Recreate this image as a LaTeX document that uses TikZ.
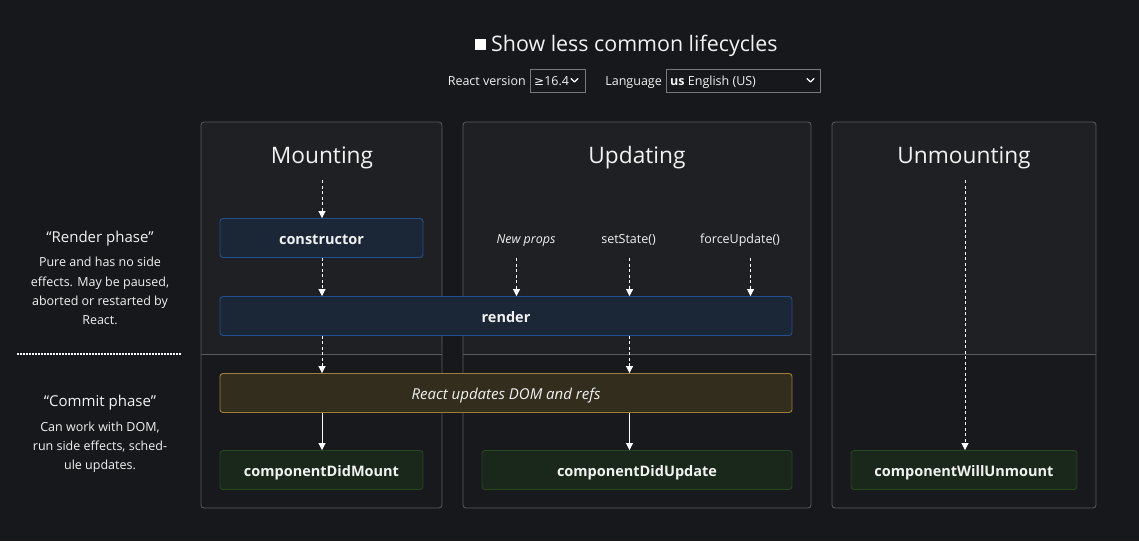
\documentclass[tikz,border=0pt]{standalone}
\usepackage{fontspec}
\setmainfont{Open Sans}
\newfontfamily\symfont{DejaVu Sans}
\usetikzlibrary{arrows.meta}

\definecolor{pagebg}{HTML}{17181C}
\definecolor{panelup}{HTML}{1F2024}
\definecolor{paneldown}{HTML}{18191D}
\definecolor{panelline}{HTML}{5B5B5F}
\definecolor{txt}{HTML}{F2F2F2}
\definecolor{bluefill}{HTML}{1B2637}
\definecolor{blueline}{HTML}{24508F}
\definecolor{goldfill}{HTML}{332D1E}
\definecolor{goldline}{HTML}{9E7F35}
\definecolor{greenfill}{HTML}{1A281C}
\definecolor{greenline}{HTML}{25461F}
\definecolor{selline}{HTML}{7A7A7E}

\tikzset{
  stagebox/.style={rounded corners=3pt, line width=0.9pt, minimum height=39pt,
    inner sep=0pt, text=txt, text height=12.6pt, text depth=0pt,
    font=\fontsize{14.5}{18}\selectfont\bfseries},
  renderbox/.style={stagebox, fill=bluefill, draw=blueline},
  commitbox/.style={stagebox, fill=goldfill, draw=goldline,
    font=\fontsize{15}{18}\selectfont\itshape},
  donebox/.style={stagebox, fill=greenfill, draw=greenline},
  coltitle/.style={text=txt, font=\fontsize{22.7}{26}\selectfont, inner sep=0pt, anchor=base},
  trigger/.style={text=txt, font=\fontsize{12.5}{15}\selectfont, inner sep=0pt, anchor=base},
  phasehead/.style={text=txt, font=\fontsize{15}{18}\selectfont, inner sep=0pt, anchor=base},
  phasebody/.style={text=txt, align=center, inner sep=0pt, anchor=base,
    font=\fontsize{12.5}{19.2}\selectfont},
  dasharrow/.style={draw=white, line width=0.9pt, dash pattern=on 3pt off 2.5pt,
    -{Triangle[width=7pt,length=7pt]}},
  solidarrow/.style={draw=white, line width=0.9pt,
    -{Triangle[width=7pt,length=7pt]}},
  selbox/.style={draw=selline, line width=0.8pt},
  chev/.style={draw=white, line width=1.3pt, line cap=round, line join=round},
  headtext/.style={text=txt, inner sep=0pt, font=\fontsize{12.5}{16}\selectfont}
}

\newcommand{\lifepanel}[4]{% left, right, top, bottom
  \fill[panelup, rounded corners=3pt] (#1,#3) rectangle (#2,354);
  \fill[paneldown] (#1,354) rectangle (#2,#4);
  \draw[panelline, line width=0.8pt, rounded corners=3pt] (#1,#3) rectangle (#2,#4);
  \draw[panelline, line width=0.8pt] (#1,354) -- (#2,354);
}

\begin{document}
\begin{tikzpicture}[x=1pt,y=-1pt]
  \fill[pagebg] (0,0) rectangle (1139,541);
  \useasboundingbox (0,0) rectangle (1139,541);

  % header controls
  \fill[white] (475,38.5) rectangle (486,50);
  \node[anchor=base west, text=txt, font=\fontsize{21.4}{26}\selectfont, inner sep=0pt]
    (showless) at (491,51.5) {Show less common lifecycles};
  \node[headtext, anchor=base east] (verlabel) at (526,85.5) {React version};
  \draw[selbox] (530,69) rectangle (585,92);
  \node[headtext, anchor=base west] (version) at (534,85.5)
    {{\symfont\fontsize{12}{16}\selectfont ≥}16.4};
  \draw[chev] (571,78.5) -- (574.5,82) -- (578,78.5);
  \node[headtext, anchor=base east] (langlabel) at (662,85.5) {Language};
  \draw[selbox] (666,69) rectangle (820,92);
  \node[headtext, anchor=base west] (lang) at (670,85.5) {\textbf{us} English (US)};
  \draw[chev] (807,78.5) -- (810.5,82) -- (814,78.5);

  % phase captions on the left (multi-line bodies sit on their last baseline)
  \node[phasehead] (renderhead) at (100,242) {“Render phase”};
  \node[phasebody] (renderbody) at (100,324.5)
    {Pure and has no side\\effects. May be paused,\\aborted or restarted by\\React.};
  \draw[white, line width=2pt, dash pattern=on 2pt off 1pt] (17,353.5) -- (181,353.5);
  \node[phasehead] (commithead) at (100,406.5) {“Commit phase”};
  \node[phasebody] (commitbody) at (100,469.5)
    {Can work with DOM,\\run side effects, sched-\\ule updates.};

  % the three lifecycle columns
  \lifepanel{201}{442}{122}{508}
  \lifepanel{463}{811}{122}{508}
  \lifepanel{832}{1096}{122}{508}

  \node[coltitle] (tmount) at (322,163) {Mounting};
  \node[coltitle] (tupdate) at (637,163) {Updating};
  \node[coltitle] (tunmount) at (964,163) {Unmounting};

  % lifecycle method boxes
  \node[renderbox, minimum width=203pt] (ctor) at (321.5,238) {constructor};
  \node[renderbox, minimum width=572pt] (render) at (506,316) {render};
  \node[commitbox, minimum width=572pt] (dom) at (506,393) {React updates DOM and refs};
  \node[donebox, minimum width=203pt] (didmount) at (321.5,470) {componentDidMount};
  \node[donebox, minimum width=310pt] (didupdate) at (637,470) {componentDidUpdate};
  \node[donebox, minimum width=226pt] (willunmount) at (964,470) {componentWillUnmount};

  % update triggers
  \node[trigger, font=\fontsize{12.5}{15}\selectfont\itshape] (newprops) at (526,243.5) {New props};
  \node[trigger] (setstate) at (628.5,243.5) {setState()};
  \node[trigger] (forceupdate) at (740,243.5) {forceUpdate()};

  \coordinate (mstart) at (322,180);
  \coordinate (ustart) at (965,180);
  \coordinate (propsstart) at (516.5,258);
  \coordinate (statestart) at (629.5,258);
  \coordinate (forcestart) at (750.5,258);
  \coordinate (updx) at (629.5,0);

  % mounting flow
  \draw[dasharrow] (mstart) -- (mstart |- ctor.north);
  \draw[dasharrow] (mstart |- ctor.south) -- (mstart |- render.north);
  \draw[dasharrow] (mstart |- render.south) -- (mstart |- dom.north);
  \draw[solidarrow] (mstart |- dom.south) -- (mstart |- didmount.north);

  % updating flow
  \draw[dasharrow] (propsstart) -- (propsstart |- render.north);
  \draw[dasharrow] (statestart) -- (statestart |- render.north);
  \draw[dasharrow] (forcestart) -- (forcestart |- render.north);
  \draw[dasharrow] (updx |- render.south) -- (updx |- dom.north);
  \draw[solidarrow] (updx |- dom.south) -- (updx |- didupdate.north);

  % unmounting flow
  \draw[dasharrow] (ustart) -- (ustart |- willunmount.north);
\end{tikzpicture}
\end{document}
